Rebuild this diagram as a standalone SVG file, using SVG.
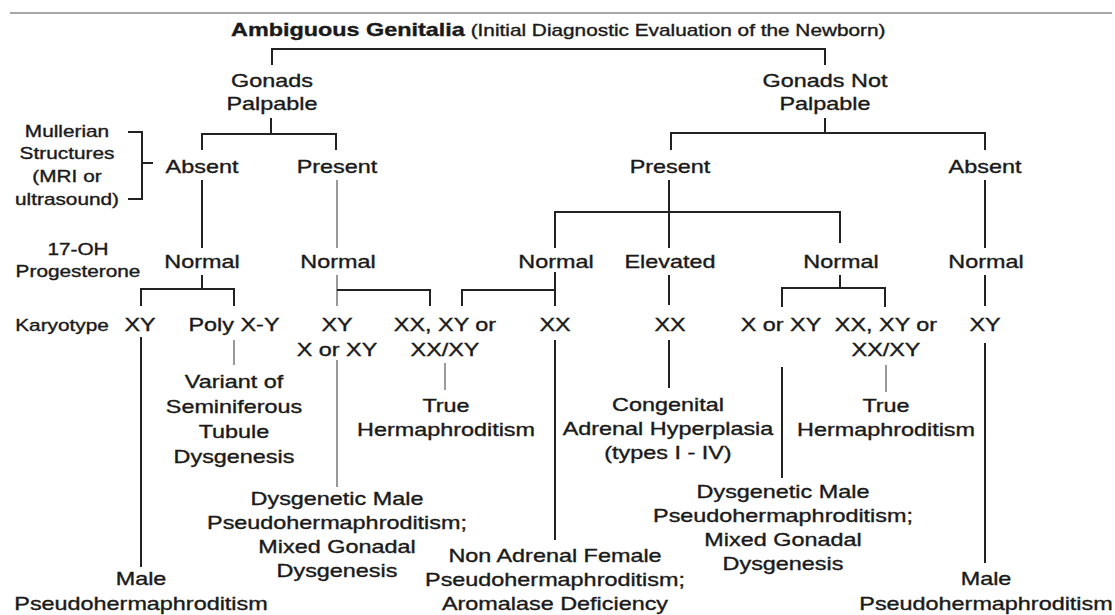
<svg xmlns="http://www.w3.org/2000/svg" width="1115" height="615" viewBox="0 0 1115 615">
<style>
.t{font-family:"Liberation Sans",Arial,Helvetica,sans-serif;font-size:18px;fill:#1a1a1a;stroke:#1a1a1a;stroke-width:0.35;text-anchor:middle}
.s{font-size:16px}
.b{font-weight:bold}
.c{stroke:#222;stroke-width:2;fill:none}
.thin{stroke:#555;stroke-width:1.2;fill:none}
</style>
<rect width="1115" height="615" fill="#fff"/>
<line x1="10" y1="13" x2="1112" y2="13" stroke="#8a8a8a" stroke-width="1.5"/>

<g id="connectors">
  <path class="c" d="M272,65 V49 H825 V65"/>
  <path class="c" d="M271,118 V134 M202,150 V134 H336 V150"/>
  <path class="c" d="M825,118 V133 M671,150 V133 H985 V150"/>
  <path class="c" d="M128,132 H142 V199 H128 M142,163 H153"/>
  <path class="c" d="M202,180 V248"/>
  <path class="thin" d="M337,180 V248"/>
  <path class="c" d="M669,180 V248 M555,248 V212 H840 V243"/>
  <path class="c" d="M985,180 V248"/>
  <path class="c" d="M202,275 V289 M141,306 V289 H234 V306"/>
  <path class="thin" d="M337,275 V306"/>
  <path class="c" d="M337,290 H430 V306"/>
  <path class="c" d="M555,272 V306 M462,306 V290 H555"/>
  <path class="c" d="M669,275 V305"/>
  <path class="c" d="M840,275 V288 M782,307 V288 H885 V307"/>
  <path class="c" d="M985,275 V306"/>
  <path class="c" d="M141,337 V567"/>
  <path class="thin" d="M234,340 V365"/>
  <path class="thin" d="M337,360 V487"/>
  <path class="thin" d="M445,363 V390"/>
  <path class="c" d="M555,340 V540"/>
  <path class="c" d="M669,340 V388"/>
  <path class="c" d="M782,367 V478"/>
  <path class="thin" d="M886,365 V392"/>
  <path class="c" d="M985,343 V563"/>
</g>

<g id="title" transform="translate(231,36) scale(1.3,1)">
  <text class="t" style="text-anchor:start"><tspan class="b">Ambiguous Genitalia</tspan><tspan class="s"> (Initial Diagnostic Evaluation of the Newborn)</tspan></text>
</g>

<g id="gonads-palpable" transform="translate(272,87) scale(1.3,1)"><text class="t"><tspan x="0" y="0">Gonads</tspan><tspan x="0" y="23">Palpable</tspan></text></g>
<g id="gonads-not-palpable" transform="translate(825,87) scale(1.3,1)"><text class="t"><tspan x="0" y="0">Gonads Not</tspan><tspan x="0" y="23">Palpable</tspan></text></g>

<g id="label-mullerian" transform="translate(67,137) scale(1.3,1)"><text class="t s"><tspan x="0" y="0">Mullerian</tspan><tspan x="0" y="22">Structures</tspan><tspan x="0" y="45">(MRI or</tspan><tspan x="0" y="68">ultrasound)</tspan></text></g>
<g id="label-17oh" transform="translate(78,255) scale(1.3,1)"><text class="t s"><tspan x="0" y="0">17-OH</tspan><tspan x="0" y="22">Progesterone</tspan></text></g>
<g id="label-karyotype" transform="translate(62,331) scale(1.3,1)"><text class="t s">Karyotype</text></g>

<g id="absent-l" transform="translate(202,173) scale(1.3,1)"><text class="t">Absent</text></g>
<g id="present-l" transform="translate(337,173) scale(1.3,1)"><text class="t">Present</text></g>
<g id="present-r" transform="translate(670,173) scale(1.3,1)"><text class="t">Present</text></g>
<g id="absent-r" transform="translate(985,173) scale(1.3,1)"><text class="t">Absent</text></g>

<g id="normal-1" transform="translate(202,268) scale(1.3,1)"><text class="t">Normal</text></g>
<g id="normal-2" transform="translate(338,268) scale(1.3,1)"><text class="t">Normal</text></g>
<g id="normal-3" transform="translate(556,268) scale(1.3,1)"><text class="t">Normal</text></g>
<g id="elevated" transform="translate(670,268) scale(1.3,1)"><text class="t">Elevated</text></g>
<g id="normal-4" transform="translate(841,268) scale(1.3,1)"><text class="t">Normal</text></g>
<g id="normal-5" transform="translate(986,268) scale(1.3,1)"><text class="t">Normal</text></g>

<g id="k-xy-1" transform="translate(140,331) scale(1.3,1)"><text class="t">XY</text></g>
<g id="k-poly" transform="translate(234,331) scale(1.3,1)"><text class="t">Poly X-Y</text></g>
<g id="k-xy-2" transform="translate(337,331) scale(1.3,1)"><text class="t"><tspan x="0" y="0">XY</tspan><tspan x="0" y="25">X or XY</tspan></text></g>
<g id="k-mix-1" transform="translate(445,331) scale(1.3,1)"><text class="t"><tspan x="0" y="0">XX, XY or</tspan><tspan x="0" y="25">XX/XY</tspan></text></g>
<g id="k-xx-1" transform="translate(555,331) scale(1.3,1)"><text class="t">XX</text></g>
<g id="k-xx-2" transform="translate(670,331) scale(1.3,1)"><text class="t">XX</text></g>
<g id="k-xorxy" transform="translate(781,331) scale(1.3,1)"><text class="t">X or XY</text></g>
<g id="k-mix-2" transform="translate(886,331) scale(1.3,1)"><text class="t"><tspan x="0" y="0">XX, XY or</tspan><tspan x="0" y="25">XX/XY</tspan></text></g>
<g id="k-xy-3" transform="translate(985,331) scale(1.3,1)"><text class="t">XY</text></g>

<g id="dx-variant" transform="translate(234,388) scale(1.3,1)"><text class="t"><tspan x="0" y="0">Variant of</tspan><tspan x="0" y="25">Seminiferous</tspan><tspan x="0" y="50">Tubule</tspan><tspan x="0" y="75">Dysgenesis</tspan></text></g>
<g id="dx-true-1" transform="translate(446,412) scale(1.3,1)"><text class="t"><tspan x="0" y="0">True</tspan><tspan x="0" y="24">Hermaphroditism</tspan></text></g>
<g id="dx-cah" transform="translate(668,411) scale(1.3,1)"><text class="t"><tspan x="0" y="0">Congenital</tspan><tspan x="0" y="24">Adrenal Hyperplasia</tspan><tspan x="0" y="48">(types I - IV)</tspan></text></g>
<g id="dx-true-2" transform="translate(886,412) scale(1.3,1)"><text class="t"><tspan x="0" y="0">True</tspan><tspan x="0" y="24">Hermaphroditism</tspan></text></g>
<g id="dx-dysgenetic-1" transform="translate(337,505) scale(1.3,1)"><text class="t"><tspan x="0" y="0">Dysgenetic Male</tspan><tspan x="0" y="24">Pseudohermaphroditism;</tspan><tspan x="0" y="48">Mixed Gonadal</tspan><tspan x="0" y="72">Dysgenesis</tspan></text></g>
<g id="dx-dysgenetic-2" transform="translate(783,498) scale(1.3,1)"><text class="t"><tspan x="0" y="0">Dysgenetic Male</tspan><tspan x="0" y="24">Pseudohermaphroditism;</tspan><tspan x="0" y="48">Mixed Gonadal</tspan><tspan x="0" y="72">Dysgenesis</tspan></text></g>
<g id="dx-nonadrenal" transform="translate(555,562) scale(1.3,1)"><text class="t"><tspan x="0" y="0">Non Adrenal Female</tspan><tspan x="0" y="24">Pseudohermaphroditism;</tspan><tspan x="0" y="48">Aromalase Deficiency</tspan></text></g>
<g id="dx-male-1" transform="translate(141,585) scale(1.3,1)"><text class="t"><tspan x="0" y="0">Male</tspan><tspan x="0" y="25">Pseudohermaphroditism</tspan></text></g>
<g id="dx-male-2" transform="translate(986,585) scale(1.3,1)"><text class="t"><tspan x="0" y="0">Male</tspan><tspan x="0" y="25">Pseudohermaphroditism</tspan></text></g>
</svg>
